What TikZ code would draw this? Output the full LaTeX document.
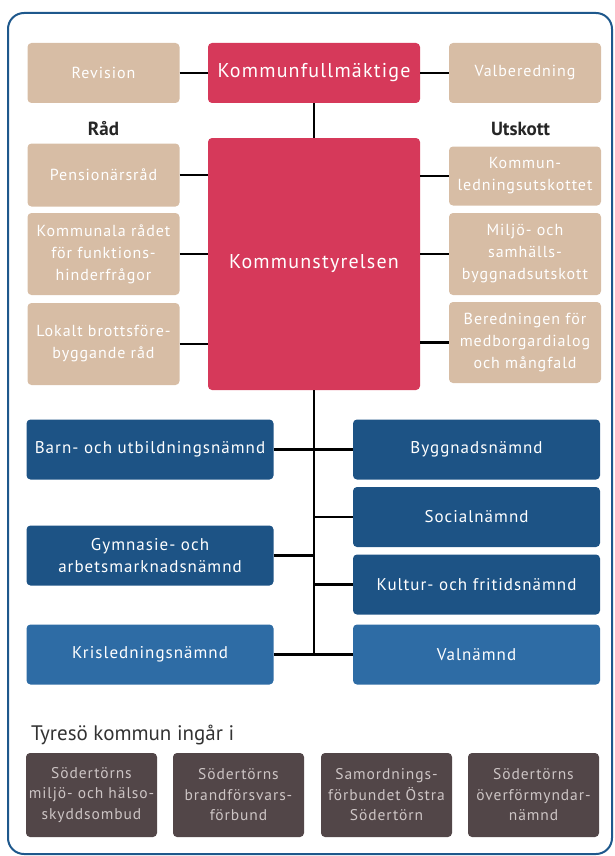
\documentclass[tikz,border=0pt]{standalone}
\usepackage{fontspec}
\setmainfont[LetterSpace=6]{PT Sans}
\newfontfamily\plainfont{PT Sans}
\usetikzlibrary{positioning}
\definecolor{tanbox}{RGB}{215,189,165}
\definecolor{kfred}{RGB}{214,57,90}
\definecolor{nblue}{RGB}{29,83,133}
\definecolor{lblue}{RGB}{46,108,165}
\definecolor{greybrown}{RGB}{82,70,72}
\definecolor{framecol}{RGB}{30,88,140}
\definecolor{greytext}{RGB}{205,197,197}

\begin{document}
\begin{tikzpicture}[x=1pt, y=-1pt,
        box_style/.style={rounded corners=4pt, inner sep=0pt, align=center, text=white, font=\fontsize{16}{22}\selectfont},
        tan_style/.style={box_style, fill=tanbox, minimum width=152pt},
        red_style/.style={box_style, fill=kfred, minimum width=212pt, font=\fontsize{20}{24}\selectfont},
        blue_style/.style={box_style, fill=nblue, minimum width=247pt, minimum height=60pt, font=\fontsize{17}{22}\selectfont},
        light_blue_style/.style={blue_style, fill=lblue},
        grey_style/.style={box_style, fill=greybrown, text=greytext, minimum width=131pt, minimum height=84pt, font=\fontsize{15.5}{20.5}\selectfont},
        label_style/.style={inner sep=0pt, text=black!85, font=\plainfont\bfseries\fontsize{19}{22}\selectfont},
        edge_style/.style={draw=black, line width=2.6pt}]

        \useasboundingbox (0,0) rectangle (615,856);
        \draw [framecol, line width=2pt, rounded corners=16pt] (8,13) rectangle (612,854);

        \node [tan_style, minimum height=60pt](n1) at (103.5,73) {Revision};
        \node [red_style, minimum height=60pt](n2) at (314,73) {Kommunfullmäktige};
        \node [tan_style, minimum height=60pt](n3) at (525,73) {Valberedning};
        \node [red_style, minimum height=252pt](n4) at (314,264) {Kommunstyrelsen};
        \node [label_style](l1) at (103.5,129) {Råd};
        \node [label_style](l2) at (520.5,129) {Utskott};
        \node [tan_style, minimum height=63pt](n5) at (103.5,175) {Pensionärsråd};
        \node [tan_style, minimum height=82pt](n6) at (103.5,254) {Kommunala rådet\\för funktions-\\hinderfrågor};
        \node [tan_style, minimum height=82pt](n7) at (103.5,344) {Lokalt brottsföre-\\byggande råd};
        \node [tan_style, minimum height=59pt](n8) at (525,176) {Kommun-\\ledningsutskottet};
        \node [tan_style, minimum height=82pt](n9) at (525,254) {Miljö- och\\samhälls-\\byggnadsutskott};
        \node [tan_style, minimum height=81pt](n10) at (525,342.5) {Beredningen för\\medborgardialog\\och mångfald};

        \node [blue_style](n11) at (150,449.5) {Barn- och utbildningsnämnd};
        \node [blue_style](n12) at (476.5,449.5) {Byggnadsnämnd};
        \node [blue_style](n13) at (476.5,517) {Socialnämnd};
        \node [blue_style](n14) at (150,555.5) {Gymnasie- och\\arbetsmarknadsnämnd};
        \node [blue_style](n15) at (476.5,584.5) {Kultur- och fritidsnämnd};
        \node [light_blue_style](n16) at (150,654.5) {Krisledningsnämnd};
        \node [light_blue_style](n17) at (476.5,654.5) {Valnämnd};

        \node [anchor=base west, inner sep=0pt, text=black!80, font=\plainfont\fontsize{21}{26}\selectfont](t1) at (31,740) {Tyresö kommun ingår i};
        \node [grey_style](n18) at (91.5,795) {Södertörns\\miljö- och hälso-\\skyddsombud};
        \node [grey_style](n19) at (238.5,795) {Södertörns\\brandförsvars-\\förbund};
        \node [grey_style](n20) at (386.5,795) {Samordnings-\\förbundet Östra\\Södertörn};
        \node [grey_style](n21) at (533.5,795) {Södertörns\\överförmyndar-\\nämnd};

        \draw [edge_style] (n1.east) -- (n2.west);
        \draw [edge_style] (n2.east) -- (n3.west);
        \draw [edge_style] (n2.south) -- (n4.north);
        \draw [edge_style] (n5.east) -- (n5.east -| n4.west);
        \draw [edge_style] (n6.east) -- (n6.east -| n4.west);
        \draw [edge_style] (n7.east) -- (n7.east -| n4.west);
        \draw [edge_style] (n8.west) -- (n8.west -| n4.east);
        \draw [edge_style] (n9.west) -- (n9.west -| n4.east);
        \draw [edge_style] (n10.west) -- (n10.west -| n4.east);
        \draw [edge_style] (n4.south) -- (n4.south |- n16.east);
        \draw [edge_style] (n11.east) -- (n12.west);
        \draw [edge_style] (n13.west) -- (n13.west -| n4.south);
        \draw [edge_style] (n14.east) -- (n14.east -| n4.south);
        \draw [edge_style] (n15.west) -- (n15.west -| n4.south);
        \draw [edge_style] (n16.east) -- (n17.west);
        \end{tikzpicture}
\end{document}
